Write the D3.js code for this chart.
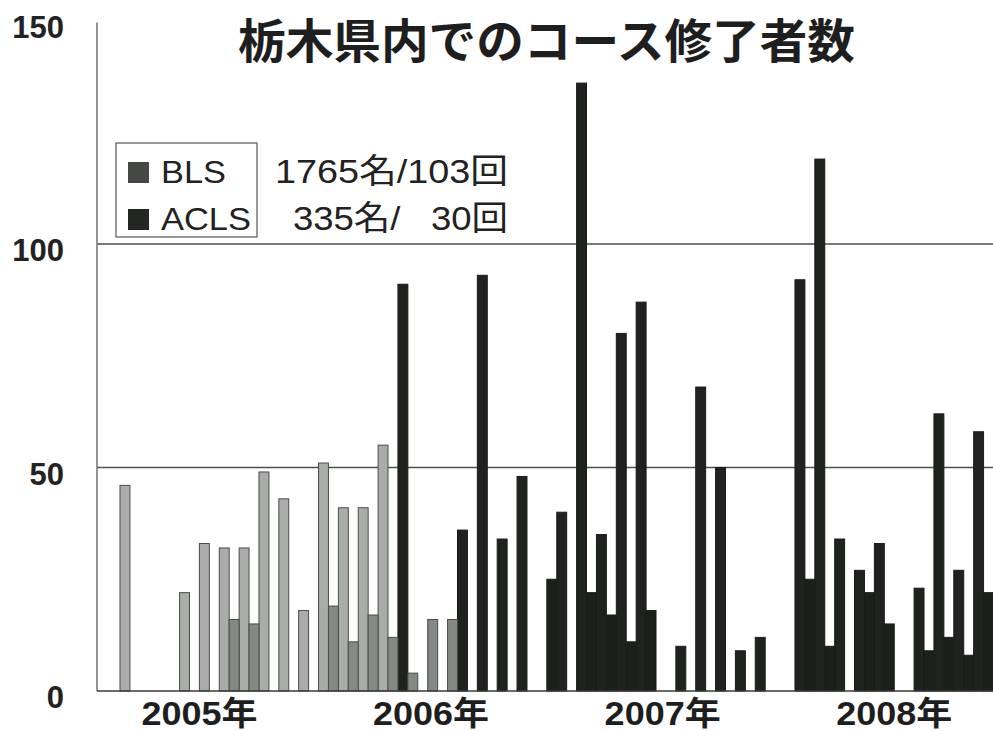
<!DOCTYPE html>
<html>
<head>
<meta charset="utf-8">
<script src="https://cdn.jsdelivr.net/npm/d3@7"></script>
<style>
  html, body { margin: 0; padding: 0; background: #fff; overflow: hidden; }
  svg { display: block; }
</style>
</head>
<body>
<svg id="chart" width="993" height="731"></svg>
<script>
// Monthly course completions in Tochigi prefecture, Jan 2005 – Aug 2008
const months = [
  "2005-01","2005-02","2005-03","2005-04","2005-05","2005-06","2005-07","2005-08","2005-09","2005-10","2005-11","2005-12",
  "2006-01","2006-02","2006-03","2006-04","2006-05","2006-06","2006-07","2006-08","2006-09","2006-10","2006-11","2006-12",
  "2007-01","2007-02","2007-03","2007-04","2007-05","2007-06","2007-07","2007-08","2007-09","2007-10","2007-11","2007-12",
  "2008-01","2008-02","2008-03","2008-04","2008-05","2008-06","2008-07","2008-08"
];
const bls = [
  46, 0, 0, 22, 33, 32, 32, 49, 43, 18, 51, 41,
  41, 55, 91, 0, 0, 36, 93, 34, 48, 0, 40, 136,
  35, 80, 87, 0, 10, 68, 50, 9, 12, 0, 92, 119,
  34, 27, 33, 0, 23, 62, 27, 58
];
const acls = [
  0, 0, 0, 0, 0, 16, 15, 0, 0, 0, 19, 11,
  17, 12, 4, 16, 16, 0, 0, 0, 0, 25, 0, 22,
  17, 11, 18, 0, 0, 0, 0, 0, 0, 0, 25, 10,
  0, 22, 15, 0, 9, 12, 8, 22
];
// Month from which each course is shown in its newer (dark) shade
const newFormatFrom = { BLS: "2006-03", ACLS: "2006-06" };

const yTicks = [0, 50, 100, 150];
const gridTicks = [50, 100];
const yearLabels = ["2005年", "2006年", "2007年", "2008年"];
const yearLabelMonths = ["2005-05", "2008-04"];
const seriesNames = ["BLS", "ACLS"];
const seriesTotals = ["1765名/103回", "335名/\u2007 30回"];
const chartTitle = "栃木県内でのコース修了者数";

const svg = d3.select("#chart");
const W = 993, H = 731;
const plotLeft = 97, plotBottom = 691, plotTop = 20.5;

const x = d3.scaleBand().domain(months).range([120, 993.5]).paddingInner(0).paddingOuter(0);
const y = d3.scaleLinear().domain([0, 150]).range([plotBottom, plotTop]);
const half = x.bandwidth() / 2;

const shades = {
  BLS:  { old: "#a9aca8", fresh: "#1f221e" },
  ACLS: { old: "#858985", fresh: "#1c1f1b" }
};

const latinFont = "'Liberation Sans', Arial, 'Noto Sans CJK JP', sans-serif";
const cjkFont = "'Noto Sans CJK JP', 'Liberation Sans', sans-serif";

// gridlines
svg.append("g").selectAll("line").data(gridTicks).join("line")
  .attr("x1", plotLeft).attr("x2", W)
  .attr("y1", d => y(d)).attr("y2", d => y(d))
  .attr("stroke", "#4d4f4c").attr("stroke-width", 1.3);

// bars
const rows = months.map((m, i) => ({ month: m, BLS: bls[i], ACLS: acls[i] }));
const barLayer = svg.append("g");
seriesNames.forEach((name, s) => {
  barLayer.append("g").selectAll("rect")
    .data(rows.filter(r => r[name] > 0))
    .join("rect")
    .attr("x", d => x(d.month) + s * half)
    .attr("y", d => y(d[name]))
    .attr("width", half)
    .attr("height", d => y(0) - y(d[name]))
    .attr("fill", d => d.month < newFormatFrom[name] ? shades[name].old : shades[name].fresh)
    .attr("stroke", d => d.month < newFormatFrom[name] ? "#4a4d49" : "#1a1c19")
    .attr("stroke-width", 1);
});

// axes lines
svg.append("line")
  .attr("x1", plotLeft).attr("x2", plotLeft)
  .attr("y1", plotTop + 2).attr("y2", plotBottom)
  .attr("stroke", "#7a7c79").attr("stroke-width", 1.6);
svg.append("line")
  .attr("x1", plotLeft).attr("x2", W)
  .attr("y1", plotBottom).attr("y2", plotBottom)
  .attr("stroke", "#3a3c39").attr("stroke-width", 1.6);

// y tick labels
svg.append("g").selectAll("text").data(yTicks).join("text")
  .attr("x", 64)
  .attr("y", d => y(d) + 17)
  .attr("text-anchor", "end")
  .attr("font-family", latinFont)
  .attr("font-weight", "bold")
  .attr("font-size", 31)
  .attr("fill", "#222")
  .text(d => d);

// year labels
const yearX = d3.scalePoint().domain(yearLabels)
  .range([x(yearLabelMonths[0]), x(yearLabelMonths[1])]);
svg.append("g").selectAll("text").data(yearLabels).join("text")
  .attr("x", d => yearX(d))
  .attr("y", 725)
  .attr("text-anchor", "middle")
  .attr("font-family", latinFont)
  .attr("font-weight", "bold")
  .attr("font-size", 33)
  .attr("textLength", 116).attr("lengthAdjust", "spacingAndGlyphs")
  .attr("fill", "#1e1e1e")
  .text(d => d);

// title
svg.append("text")
  .attr("x", 238).attr("y", 58)
  .attr("textLength", 617).attr("lengthAdjust", "spacingAndGlyphs")
  .attr("font-family", cjkFont)
  .attr("font-weight", "bold")
  .attr("font-size", 47)
  .attr("fill", "#1e1e1e")
  .text(chartTitle);

// legend
const legend = svg.append("g");
legend.append("rect")
  .attr("x", 116).attr("y", 143).attr("width", 141).attr("height", 94)
  .attr("fill", "#fff").attr("stroke", "#555").attr("stroke-width", 1.2);
const legendRowY = [183, 230];
const legendSwatch = ["#454845", "#242623"];
const nameWidths = [65, 90];
const totalWidths = [233, 215];
seriesNames.forEach((name, i) => {
  legend.append("rect")
    .attr("x", 128).attr("y", legendRowY[i] - 21)
    .attr("width", 21).attr("height", 21)
    .attr("fill", legendSwatch[i]);
  legend.append("text")
    .attr("x", 161).attr("y", legendRowY[i])
    .attr("font-family", latinFont)
    .attr("font-size", 32)
    .attr("textLength", nameWidths[i]).attr("lengthAdjust", "spacingAndGlyphs")
    .attr("fill", "#222")
    .text(name);
  legend.append("text")
    .attr("x", 508 - totalWidths[i]).attr("y", legendRowY[i])
    .attr("font-family", latinFont)
    .attr("font-size", 34)
    .attr("textLength", totalWidths[i]).attr("lengthAdjust", "spacingAndGlyphs")
    .attr("fill", "#222")
    .text(seriesTotals[i]);
});
</script>
</body>
</html>
